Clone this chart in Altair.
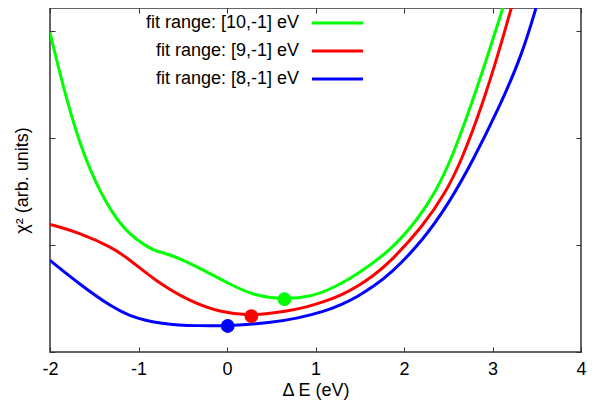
import altair as alt
import pandas as pd

series = ["fit range: [10,-1] eV", "fit range: [9,-1] eV", "fit range: [8,-1] eV"]
colors = ["#00ff00", "#ff0000", "#0000ff"]

green_x = [-2.000, -1.850, -1.665, -1.478, -1.291, -1.105, -0.918, -0.806, -0.694, -0.507, -0.246,
           0.015, 0.313, 0.649, 0.948, 1.209, 1.470, 1.844, 2.142, 2.365, 2.550, 2.776, 2.963, 3.131]
green_y = [2.984, 2.470, 1.941, 1.567, 1.287, 1.100, 0.991, 0.944, 0.922, 0.866, 0.757,
           0.640, 0.523, 0.493, 0.515, 0.601, 0.726, 0.944, 1.224, 1.505, 1.830, 2.346, 2.813, 3.250]

red_x = [-2.000, -1.665, -1.291, -1.105, -0.806, -0.433, -0.059, 0.276, 0.686, 0.900, 1.100,
         1.300, 1.470, 1.650, 1.844, 2.217, 2.478, 2.645, 2.888, 3.075, 3.224]
red_y = [1.193, 1.115, 0.975, 0.866, 0.664, 0.477, 0.367, 0.336, 0.383, 0.420, 0.470,
         0.535, 0.610, 0.710, 0.841, 1.178, 1.500, 1.780, 2.315, 2.813, 3.250]

blue_x = [-2.000, -1.665, -1.291, -1.105, -0.918, -0.731, -0.545, -0.358, 0.008, 0.500, 0.800,
          1.100, 1.300, 1.470, 1.650, 1.844, 2.217, 2.515, 2.776, 3.075, 3.336, 3.504]
blue_y = [0.857, 0.633, 0.414, 0.341, 0.294, 0.266, 0.252, 0.246, 0.243, 0.274, 0.315,
          0.380, 0.445, 0.515, 0.610, 0.726, 1.045, 1.400, 1.785, 2.283, 2.782, 3.250]

min_x = [0.649, 0.276, 0.008]
min_y = [0.493, 0.336, 0.243]

x_ticks = [-2, -1, 0, 1, 2, 3, 4]
y_ticks = [0, 1, 2, 3]

rows = []
for s, xs, ys in zip(series, [green_x, red_x, blue_x], [green_y, red_y, blue_y]):
    for i, (a, b) in enumerate(zip(xs, ys)):
        rows.append({"series": s, "x": a, "y": b, "i": i})
curves = pd.DataFrame(rows)
mins = pd.DataFrame({"series": series, "x": min_x, "y": min_y})
leg = pd.DataFrame({"series": series})

FONT = "Liberation Sans"
FS = 18
xdom = [-2, 4]
ydom = [0, 3.215]
color = alt.Color("series:N", scale=alt.Scale(domain=series, range=colors), legend=None)

lines = alt.Chart(curves).mark_line(strokeWidth=3, interpolate="basis", clip=True).encode(
    x=alt.X("x:Q", scale=alt.Scale(domain=xdom, nice=False, zero=False),
            axis=alt.Axis(values=x_ticks, orient="bottom", offset=-5, tickSize=5, domain=False, grid=False,
                          labelPadding=8, labelFontSize=FS, labelFont=FONT, labelColor="black",
                          labelFlush=False, labelOverlap=False,
                          labelExpr="'' + datum.value", title="Δ E (eV)", titleFont=FONT,
                          titleFontSize=FS, titleFontWeight="normal", titlePadding=3,
                          titleColor="black", tickColor="#333333")),
    y=alt.Y("y:Q", scale=alt.Scale(domain=ydom, nice=False, zero=False),
            axis=alt.Axis(values=y_ticks, orient="left", offset=-5, tickSize=5, domain=False, grid=False,
                          labels=False, title="χ² (arb. units)", titleFont=FONT, titleFontSize=FS,
                          titleFontWeight="normal", titlePadding=18, titleColor="black",
                          tickColor="#333333")),
    color=color,
    order="i:Q",
    detail="series:N",
)

points = alt.Chart(mins).mark_circle(size=190, opacity=1).encode(
    x=alt.X("x:Q", scale=alt.Scale(domain=xdom, nice=False, zero=False),
            axis=alt.Axis(values=x_ticks, orient="top", offset=-5, tickSize=5, domain=False, grid=False,
                          labels=False, title=None, tickColor="#333333")),
    y=alt.Y("y:Q", scale=alt.Scale(domain=ydom, nice=False, zero=False),
            axis=alt.Axis(values=y_ticks, orient="right", offset=-5, tickSize=5, domain=False, grid=False,
                          labels=False, title=None, tickColor="#333333")),
    color=color,
)

leg_y = alt.Y("series:N", sort=series, scale=alt.Scale(type="point", range=[15, 71], padding=0), axis=None)
leg_text = alt.Chart(leg).mark_text(align="right", baseline="middle", font=FONT, fontSize=FS, color="black").encode(
    x=alt.value(249), y=leg_y, text="series:N")
leg_rule = alt.Chart(leg).mark_rule(strokeWidth=3).encode(
    x=alt.value(262), x2=alt.value(313), y=leg_y, color=color)

chart = alt.layer(lines, points, leg_rule, leg_text).resolve_scale(
    y="independent"
).resolve_axis(x="independent", y="independent").properties(
    width=531, height=344,
    autosize=alt.AutoSizeParams(type="none"),
    padding={"left": 42, "top": 0, "right": 6, "bottom": 48},
).configure_view(stroke="#333333", strokeWidth=1.5)

chart.save("out.html", embed_options={"renderer": "svg", "actions": False})
